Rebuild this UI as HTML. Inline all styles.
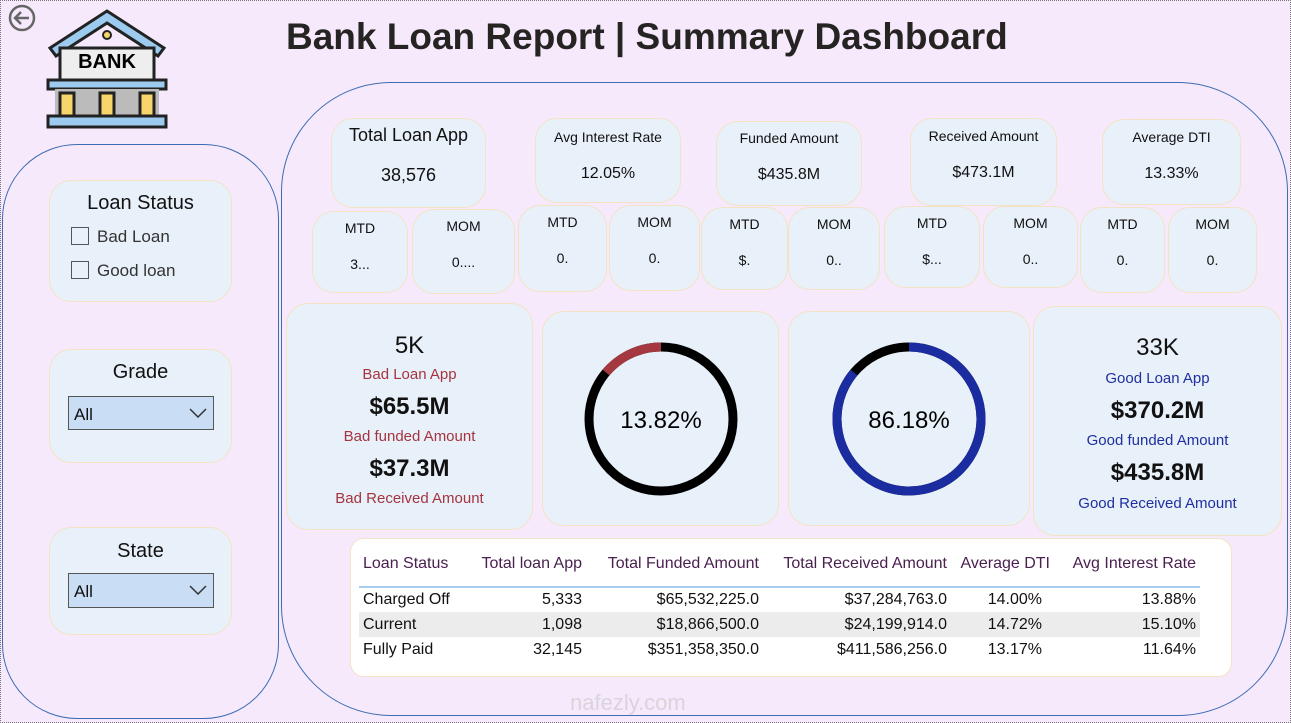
<!DOCTYPE html>
<html><head><meta charset="utf-8"><style>
*{box-sizing:border-box;margin:0;padding:0}
body{width:1291px;height:723px;background:#f6e9fb;font-family:"Liberation Sans",sans-serif;position:relative;overflow:hidden;color:#111}
.abs{position:absolute}
.card{position:absolute;background:#e8f0f9;border:1px solid #f3e3c4;border-radius:22px;text-align:center}
.outline{position:absolute;border:1px solid #3d6cb3}
.t{position:absolute;left:0;right:0;text-align:center}
table{border-collapse:collapse;font-size:16px}
td,th{padding:0 4px;white-space:nowrap}
th{font-weight:normal;color:#4a2050;text-align:right;height:46px;border-bottom:2px solid #a8cdee}
td{text-align:right;height:25px}
</style></head><body>
<div class="abs" style="left:0;top:0;width:1291px;height:723px;border:1px dotted #777"></div>
<svg class="abs" style="left:7px;top:3px" width="30" height="30"><circle cx="15" cy="15" r="12" fill="none" stroke="#666" stroke-width="2.5"/><path d="M22 15H9M14 9l-6 6 6 6" fill="none" stroke="#666" stroke-width="2.5"/></svg>
<svg class="abs" style="left:45px;top:8px" width="125" height="122">
<path d="M5 40 L62 3 L119 40 L113 48 L62 15 L11 48Z" fill="#9ccbef" stroke="#222" stroke-width="3"/>
<rect x="15" y="40" width="94" height="35" fill="#eee" stroke="#222" stroke-width="3"/>
<circle cx="62" cy="27" r="4" fill="#f7d56b" stroke="#222" stroke-width="2"/>
<text x="62" y="60" font-size="20" font-weight="bold" text-anchor="middle" font-family="Liberation Sans">BANK</text>
<rect x="3" y="72" width="118" height="9" fill="#9ccbef" stroke="#222" stroke-width="3"/>
<rect x="10" y="81" width="104" height="26" fill="#bbb"/>
<rect x="15" y="85" width="14" height="24" fill="#f7d56b" stroke="#222" stroke-width="3"/>
<rect x="55" y="85" width="14" height="24" fill="#f7d56b" stroke="#222" stroke-width="3"/>
<rect x="95" y="85" width="14" height="24" fill="#f7d56b" stroke="#222" stroke-width="3"/>
<rect x="3" y="108" width="118" height="11" fill="#9ccbef" stroke="#222" stroke-width="3"/>
</svg>
<div class="abs" style="left:286px;top:16px;font-size:37px;font-weight:bold;color:#252423">Bank Loan Report | Summary Dashboard</div>

<div class="outline" style="left:2px;top:144px;width:277px;height:575px;border-radius:75px"></div>
<div class="outline" style="left:281px;top:82px;width:1007px;height:634px;border-radius:110px"></div>

<div class="card" style="left:49px;top:180px;width:183px;height:122px">
<div class="t" style="top:11px;font-size:20px">Loan Status</div>
<div class="abs" style="left:21px;top:46px;font-size:17px;color:#333"><span style="display:inline-block;width:18px;height:18px;border:1px solid #555;vertical-align:-3px;margin-right:8px"></span>Bad Loan</div>
<div class="abs" style="left:21px;top:80px;font-size:17px;color:#333"><span style="display:inline-block;width:18px;height:18px;border:1px solid #555;vertical-align:-3px;margin-right:8px"></span>Good loan</div>
</div>
<div class="card" style="left:49px;top:349px;width:183px;height:114px">
<div class="t" style="top:11px;font-size:20px">Grade</div>
<div class="abs" style="left:18px;top:46px;width:146px;height:34px;background:#c9ddf5;border:1px solid #555;font-size:17px;padding:8px 5px;text-align:left">All<svg class="abs" style="right:6px;top:11px" width="18" height="10"><path d="M1 1l8 8 8-8" fill="none" stroke="#333" stroke-width="1.5"/></svg></div>
</div>
<div class="card" style="left:49px;top:527px;width:183px;height:108px">
<div class="t" style="top:12px;font-size:20px">State</div>
<div class="abs" style="left:18px;top:45px;width:146px;height:35px;background:#c9ddf5;border:1px solid #555;font-size:17px;padding:8px 5px;text-align:left">All<svg class="abs" style="right:6px;top:11px" width="18" height="10"><path d="M1 1l8 8 8-8" fill="none" stroke="#333" stroke-width="1.5"/></svg></div>
</div>

<div class="card" style="left:331px;top:118px;width:155px;height:90px"><div class="t" style="top:6px;font-size:18px">Total Loan App</div><div class="t" style="top:46px;font-size:18px">38,576</div></div>
<div class="card" style="left:535px;top:118px;width:146px;height:85px"><div class="t" style="top:10px;font-size:14px">Avg Interest Rate</div><div class="t" style="top:46px;font-size:16px">12.05%</div></div>
<div class="card" style="left:716px;top:121px;width:146px;height:85px"><div class="t" style="top:8px;font-size:14px">Funded Amount</div><div class="t" style="top:44px;font-size:16px">$435.8M</div></div>
<div class="card" style="left:910px;top:118px;width:147px;height:88px"><div class="t" style="top:9px;font-size:14px">Received Amount</div><div class="t" style="top:45px;font-size:16px">$473.1M</div></div>
<div class="card" style="left:1102px;top:119px;width:139px;height:86px"><div class="t" style="top:9px;font-size:14px">Average DTI</div><div class="t" style="top:45px;font-size:16px">13.33%</div></div>

<div id="mrow"></div>

<div class="card" style="left:286px;top:303px;width:247px;height:227px">
<div class="t" style="top:28px;font-size:24px">5K</div>
<div class="t" style="top:62px;font-size:15px;color:#a5343e">Bad Loan App</div>
<div class="t" style="top:89px;font-size:24px;font-weight:bold">$65.5M</div>
<div class="t" style="top:124px;font-size:15px;color:#a5343e">Bad funded Amount</div>
<div class="t" style="top:151px;font-size:24px;font-weight:bold">$37.3M</div>
<div class="t" style="top:186px;font-size:15px;color:#a5343e">Bad Received Amount</div>
</div>
<div class="card" style="left:542px;top:311px;width:237px;height:215px"></div>
<div class="card" style="left:788px;top:311px;width:242px;height:215px"></div>
<svg class="abs" id="donuts" style="left:0;top:0" width="1291" height="723"></svg>
<div class="card" style="left:1033px;top:306px;width:249px;height:230px">
<div class="t" style="top:27px;font-size:24px">33K</div>
<div class="t" style="top:63px;font-size:15px;color:#1f2fa0">Good Loan App</div>
<div class="t" style="top:90px;font-size:24px;font-weight:bold">$370.2M</div>
<div class="t" style="top:125px;font-size:15px;color:#1f2fa0">Good funded Amount</div>
<div class="t" style="top:152px;font-size:24px;font-weight:bold">$435.8M</div>
<div class="t" style="top:188px;font-size:15px;color:#1f2fa0">Good Received Amount</div>
</div>

<div class="card" style="left:350px;top:538px;width:882px;height:139px;background:#fff;border-radius:14px">
<table class="abs" style="left:8px;top:2px">
<tr><th style="text-align:left;width:110px">Loan Status</th><th style="width:117px">Total loan App</th><th style="width:177px">Total Funded Amount</th><th style="width:188px">Total Received Amount</th><th style="width:103px">Average DTI</th><th style="width:146px">Avg Interest Rate</th></tr>
<tbody id="tb"></tbody></table>
</div>
<div class="abs" style="left:570px;top:690px;font-size:22px;color:#ccc;opacity:.7">nafezly.com</div>

<script>
const mtdLabels=["MTD","MOM","MTD","MOM","MTD","MOM","MTD","MOM","MTD","MOM"];
const mtdValues=["3...","0....","0.","0.","$.","0..","$...","0..","0.","0."];
const mtdBoxes=[[312,211,96,82],[412,209,103,85],[518,205,89,87],[609,205,91,86],[701,207,87,83],[788,207,92,83],[884,206,96,82],[983,206,95,82],[1080,207,85,86],[1168,207,89,86]];
const row=document.getElementById('mrow');
mtdLabels.forEach((l,i)=>{const b=mtdBoxes[i];const d=document.createElement('div');d.className='card';


d.style.cssText=`left:${b[0]}px;top:${b[1]}px;width:${b[2]}px;height:${b[3]}px`;
d.innerHTML=`<div class="t" style="top:8px;font-size:14px">${l}</div><div class="t" style="top:44px;font-size:14px">${mtdValues[i]}</div>`;row.appendChild(d);});

const donutLabels=["Bad Loan %","Good Loan %"];
const donutValues=[13.82,86.18];
const donutColors=["#a4373f","#1a2ca0"];
const donutCenters=[[661,419],[909,419]];
const dirs=[-1,1];
const svg=document.getElementById('donuts');const NS='http://www.w3.org/2000/svg';
function pt(cx,cy,r,a){return [cx+r*Math.sin(a),cy-r*Math.cos(a)];}
donutValues.forEach((v,i)=>{const [cx,cy]=donutCenters[i];const r=72;
const c=document.createElementNS(NS,'circle');c.setAttribute('cx',cx);c.setAttribute('cy',cy);c.setAttribute('r',r);c.setAttribute('fill','none');c.setAttribute('stroke','#000');c.setAttribute('stroke-width',9);

svg.appendChild(c);
const a=dirs[i]*v/100*2*Math.PI;const p=pt(cx,cy,r,a);const large=v>50?1:0;const sweep=dirs[i]>0?1:0;
const path=document.createElementNS(NS,'path');path.setAttribute('d',`M${cx} ${cy-r}A${r} ${r} 0 ${large} ${sweep} ${p[0]} ${p[1]}`);path.setAttribute('fill','none');path.setAttribute('stroke',donutColors[i]);path.setAttribute('stroke-width',9);

svg.appendChild(path);
const t=document.createElementNS(NS,'text');t.setAttribute('x',cx);t.setAttribute('y',cy+9);t.setAttribute('text-anchor','middle');t.setAttribute('font-size','24');t.setAttribute('font-family','Liberation Sans');t.textContent=v.toFixed(2)+'%';

svg.appendChild(t);});

const statuses=["Charged Off","Current","Fully Paid"];
const apps=["5,333","1,098","32,145"];
const funded=["$65,532,225.0","$18,866,500.0","$351,358,350.0"];
const received=["$37,284,763.0","$24,199,914.0","$411,586,256.0"];
const dti=["14.00%","14.72%","13.17%"];
const rate=["13.88%","15.10%","11.64%"];
const tb=document.getElementById('tb');
statuses.forEach((s,i)=>{const tr=document.createElement('tr');


if(i==1)tr.style.background='#ececec';
tr.innerHTML=`<td style="text-align:left">${s}</td><td>${apps[i]}</td><td>${funded[i]}</td><td>${received[i]}</td><td style="padding-right:12px">${dti[i]}</td><td>${rate[i]}</td>`;tb.appendChild(tr);});
</script>
</body></html>
